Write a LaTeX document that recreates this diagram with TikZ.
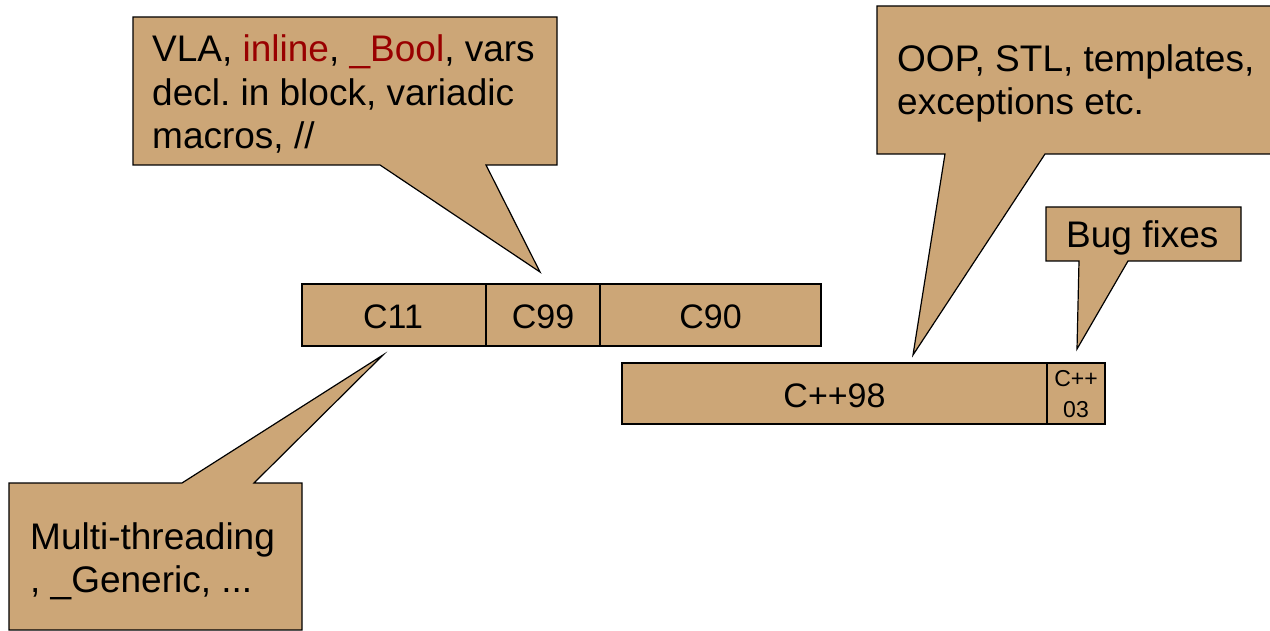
\documentclass[tikz,border=0pt]{standalone}
\usepackage{fontspec}
\setmainfont{Liberation Sans}
\frenchspacing
\definecolor{tan}{RGB}{204,166,119}
\definecolor{darkred}{RGB}{153,0,0}
\tikzset{
  shapefill/.style={fill=tan, draw=black, line width=1.2pt, line join=miter},
  bigtxt/.style={inner sep=0pt, anchor=base west, font=\fontsize{37}{44}\selectfont},
  celltxt/.style={inner sep=0pt, anchor=base, font=\fontsize{34}{44}\selectfont},
  smalltxt/.style={inner sep=0pt, anchor=base, font=\fontsize{23}{30}\selectfont},
}
\begin{document}
\begin{tikzpicture}[x=1pt, y=-1pt]
\useasboundingbox (0,0) rectangle (1270,631);
\clip (0,0) rectangle (1270,631);

% Callout 1: VLA ...
\draw[shapefill] (133,17) -- (557,17) -- (557,165) -- (486,165) -- (540,272) -- (380,165) -- (133,165) -- cycle;
\node[bigtxt] (t1a) at (152,62) {VLA, \textcolor{darkred}{inline}, \textcolor{darkred}{\_Bool}, vars};
\node[bigtxt] (t1b) at (152,106) {decl. in block, variadic};
\node[bigtxt] (t1c) at (152,149) {macros, //};

% Callout 2: OOP ...
\draw[shapefill] (877,6) -- (1290,6) -- (1290,154) -- (1045,154) -- (913,355) -- (945,154) -- (877,154) -- cycle;
\node[bigtxt] (t2a) at (897,72) {OOP, STL, templates,};
\node[bigtxt] (t2b) at (897,115) {exceptions etc.};

% Callout 3: Bug fixes
\draw[shapefill] (1046,207) -- (1241,207) -- (1241,261) -- (1128,261) -- (1077,349) -- (1079,261) -- (1046,261) -- cycle;
\node[bigtxt] (t3) at (1066,248) {Bug fixes};

% Callout 4: Multi-threading
\draw[shapefill] (9,483) -- (182,483) -- (383,355) -- (254,483) -- (302,483) -- (302,630) -- (9,630) -- cycle;
\node[bigtxt] (t4a) at (30,549) {Multi-threading};
\node[bigtxt] (t4b) at (30,592) {, \_Generic, ...};

% C row
\draw[shapefill] (302,284) rectangle (486,346);
\draw[shapefill] (486,284) rectangle (600,346);
\draw[shapefill] (600,284) rectangle (821,346);
\node[celltxt] (c11) at (393,329) {C11};
\node[celltxt] (c99) at (543,329) {C99};
\node[celltxt] (c90) at (710.5,329) {C90};

% C++ row
\draw[shapefill] (622,363) rectangle (1047,424);
\draw[shapefill] (1047,363) rectangle (1105,424);
\node[celltxt] (cpp98) at (834.5,407) {C++98};
\node[smalltxt] (cpp03a) at (1076,386) {C++};
\node[smalltxt] (cpp03b) at (1076,417) {03};
\end{tikzpicture}
\end{document}
